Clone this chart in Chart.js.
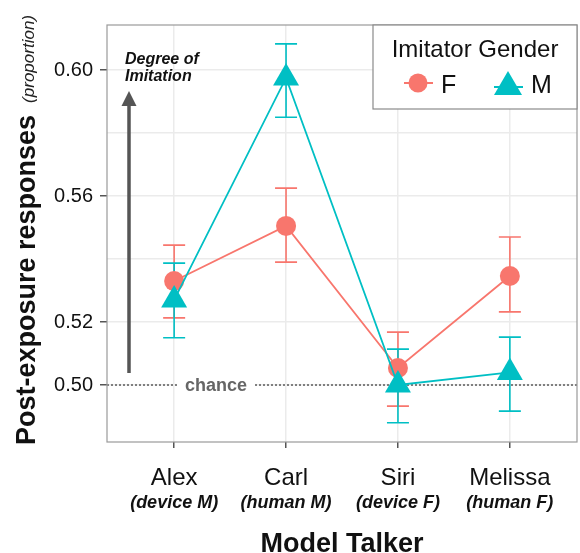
<!DOCTYPE html>
<html>
<head>
<meta charset="utf-8">
<script src="https://cdn.jsdelivr.net/npm/chart.js@4.4.1/dist/chart.umd.min.js"></script>
<style>
  html, body { margin: 0; padding: 0; background: #fff; }
  #wrap { width: 580px; height: 553px; position: relative; }
</style>
</head>
<body>
<div id="wrap"><canvas id="chart"></canvas></div>
<script>
// donnees
var talkers = ['Alex', 'Carl', 'Siri', 'Melissa'];
var talkerTypes = ['(device M)', '(human M)', '(device F)', '(human F)'];
var femaleMean = [0.533, 0.5505, 0.5054, 0.5346];
var femaleLow = [0.5213, 0.539, 0.4933, 0.5232];
var femaleHigh = [0.5444, 0.5625, 0.5168, 0.547];
var maleMean = [0.527, 0.5975, 0.500, 0.504];
var maleLow = [0.515, 0.585, 0.488, 0.4917];
var maleHigh = [0.5387, 0.6083, 0.5114, 0.5152];
var yTicks = [0.50, 0.52, 0.54, 0.56, 0.58, 0.60];
var yLabelled = [0.50, 0.52, 0.56, 0.60];
var chanceLevel = 0.50;

var red = '#F8766D';
var teal = '#00BFC4';
var font = '"Liberation Sans", Arial, sans-serif';

function points(vals) {
    return vals.map(function (v, i) { return { x: i + 1, y: v }; });
}

function isLabelled(v) {
    return yLabelled.some(function (t) { return Math.abs(t - v) < 1e-6; });
}

var decorations = {
    id: 'decorations',
    beforeDatasetsDraw: function (chart) {
        var c = chart.ctx, a = chart.chartArea;
        var xs = chart.scales.x, ys = chart.scales.y;

        // ligne du hasard
        var yc = ys.getPixelForValue(chanceLevel);
        c.save();
        c.strokeStyle = '#808080';
        c.lineWidth = 2;
        c.setLineDash([2, 2]);
        c.beginPath();
        c.moveTo(a.left, yc);
        c.lineTo(a.right, yc);
        c.stroke();
        c.setLineDash([]);
        c.font = 'bold 18px ' + font;
        c.textAlign = 'center';
        c.textBaseline = 'middle';
        var tw = c.measureText('chance').width;
        c.fillStyle = '#fff';
        c.fillRect(216 - tw / 2 - 8, yc - 9, tw + 16, 18);
        c.fillStyle = '#666';
        c.fillText('chance', 216, yc + 1);

        // fleche "Degree of Imitation"
        c.strokeStyle = '#555';
        c.fillStyle = '#555';
        c.lineWidth = 3.5;
        c.beginPath();
        c.moveTo(129, 373);
        c.lineTo(129, 102);
        c.stroke();
        c.beginPath();
        c.moveTo(129, 91);
        c.lineTo(121.5, 106);
        c.lineTo(136.5, 106);
        c.closePath();
        c.fill();
        c.fillStyle = '#111';
        c.font = 'italic bold 16px ' + font;
        c.textAlign = 'left';
        c.textBaseline = 'alphabetic';
        c.fillText('Degree of', 125, 64);
        c.fillText('Imitation', 125, 81);

        // barres d'erreur
        var sets = [[femaleLow, femaleHigh, red], [maleLow, maleHigh, teal]];
        sets.forEach(function (s) {
            c.strokeStyle = s[2];
            c.lineWidth = 1.6;
            for (var i = 0; i < talkers.length; i++) {
                var x = xs.getPixelForValue(i + 1);
                var y1 = ys.getPixelForValue(s[0][i]);
                var y2 = ys.getPixelForValue(s[1][i]);
                c.beginPath();
                c.moveTo(x, y1); c.lineTo(x, y2);
                c.moveTo(x - 11, y1); c.lineTo(x + 11, y1);
                c.moveTo(x - 11, y2); c.lineTo(x + 11, y2);
                c.stroke();
            }
        });
        c.restore();
    },
    afterDraw: function (chart) {
        var c = chart.ctx, a = chart.chartArea;
        var xs = chart.scales.x;
        c.save();

        // cadre du panneau
        c.strokeStyle = '#9a9a9a';
        c.lineWidth = 1.2;
        c.strokeRect(a.left, a.top, a.right - a.left, a.bottom - a.top);

        // etiquettes des locuteurs
        c.fillStyle = '#111';
        c.textAlign = 'center';
        c.textBaseline = 'alphabetic';
        for (var i = 0; i < talkers.length; i++) {
            var x = xs.getPixelForValue(i + 1);
            c.font = '24px ' + font;
            c.fillText(talkers[i], x, 485);
            c.font = 'italic bold 18px ' + font;
            c.fillText(talkerTypes[i], x, 508);
        }

        // titre de l'axe x
        c.font = 'bold 27px ' + font;
        c.fillText('Model Talker', 342, 552);

        // titre de l'axe y
        c.translate(35, 230);
        c.rotate(-Math.PI / 2);
        c.font = 'bold 27px ' + font;
        var w1 = c.measureText('Post-exposure responses').width;
        c.font = 'italic 17px ' + font;
        var w2 = c.measureText('(proportion)').width;
        var gap = 12;
        var start = -(w1 + gap + w2) / 2;
        c.textAlign = 'left';
        c.font = 'bold 27px ' + font;
        c.fillText('Post-exposure responses', start, 0);
        c.font = 'italic 17px ' + font;
        c.fillStyle = '#222';
        c.fillText('(proportion)', start + w1 + gap, -1);
        c.setTransform(1, 0, 0, 1, 0, 0);

        // legende
        c.fillStyle = '#fff';
        c.fillRect(373, 25, 204, 84);
        c.strokeStyle = '#8a8a8a';
        c.lineWidth = 1.2;
        c.strokeRect(373, 25, 204, 84);
        c.fillStyle = '#111';
        c.font = '24px ' + font;
        c.textAlign = 'center';
        c.fillText('Imitator Gender', 475, 57);

        c.strokeStyle = red;
        c.lineWidth = 2;
        c.beginPath(); c.moveTo(404, 83); c.lineTo(433, 83); c.stroke();
        c.fillStyle = red;
        c.beginPath(); c.arc(418, 83, 9.5, 0, Math.PI * 2); c.fill();
        c.strokeStyle = teal;
        c.beginPath(); c.moveTo(494, 87); c.lineTo(523, 87); c.stroke();
        c.fillStyle = teal;
        c.beginPath();
        c.moveTo(508, 71); c.lineTo(522, 95); c.lineTo(494, 95);
        c.closePath(); c.fill();
        c.fillStyle = '#111';
        c.font = '25px ' + font;
        c.textAlign = 'left';
        c.fillText('F', 441, 93);
        c.fillText('M', 531, 93);
        c.restore();
    }
};

var ctx = document.getElementById('chart').getContext('2d');
var myChart = new Chart(ctx, {
    type: 'line',
    data: {
        datasets: [{
            label: 'F',
            data: points(femaleMean),
            borderColor: red,
            backgroundColor: red,
            borderWidth: 1.8,
            pointStyle: 'circle',
            pointRadius: 10,
            pointBorderWidth: 0,
            order: 1
        }, {
            label: 'M',
            data: points(maleMean),
            borderColor: teal,
            backgroundColor: teal,
            borderWidth: 1.8,
            pointStyle: 'triangle',
            pointRadius: 15,
            pointBorderWidth: 0,
            order: 0
        }]
    },
    options: {
        responsive: true,
        maintainAspectRatio: false,
        animation: false,
        layout: { autoPadding: false, padding: { left: 0, top: 25, right: 3, bottom: 0 } },
        plugins: {
            legend: { display: false },
            tooltip: { enabled: false }
        },
        scales: {
            x: {
                type: 'linear',
                min: 0.4,
                max: 4.6,
                afterBuildTicks: function (s) {
                    s.ticks = talkers.map(function (t, i) { return { value: i + 1 }; });
                },
                afterFit: function (s) {
                    s.height = 111;
                    s.paddingLeft = 0;
                    s.paddingRight = 0;
                },
                ticks: { display: false },
                grid: { color: '#ebebeb', lineWidth: 1.5, tickLength: 6, tickColor: '#555', drawTicks: true },
                border: { display: false }
            },
            y: {
                min: 0.4819,
                max: 0.6143,
                afterBuildTicks: function (s) {
                    s.ticks = yTicks.map(function (v) { return { value: v }; });
                },
                afterFit: function (s) {
                    s.width = 107;
                    s.paddingTop = 0;
                    s.paddingBottom = 0;
                },
                ticks: {
                    callback: function (v) { return isLabelled(v) ? v.toFixed(2) : ''; },
                    font: { family: font, size: 20 },
                    color: '#111',
                    padding: 7,
                    autoSkip: false
                },
                grid: {
                    color: '#ebebeb',
                    lineWidth: 1.5,
                    tickLength: 7,
                    tickColor: function (c) { return c.tick && isLabelled(c.tick.value) ? '#555' : 'rgba(0,0,0,0)'; }
                },
                border: { display: false }
            }
        }
    },
    plugins: [decorations]
});
</script>
</body>
</html>
